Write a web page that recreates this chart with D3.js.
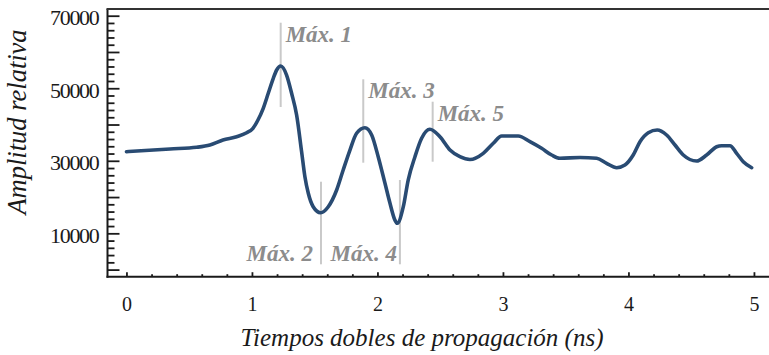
<!DOCTYPE html>
<html>
<head>
<meta charset="utf-8">
<script src="https://cdn.jsdelivr.net/npm/d3@7/dist/d3.min.js"></script>
<style>
  html, body { margin: 0; padding: 0; background: #ffffff; }
  svg { display: block; }
  text { font-family: "Liberation Serif", "Times New Roman", serif; }
</style>
</head>
<body>
<svg id="chart" width="769" height="355"></svg>
<script>
// Two-way travel time (ns) and relative amplitude of the trace
const times = [0.00, 0.347, 0.559, 0.665, 0.769, 0.878, 0.958, 1.008, 1.048, 1.090,
  1.130, 1.170, 1.197, 1.229, 1.276, 1.316, 1.356, 1.396, 1.422, 1.449,
  1.488, 1.547, 1.608, 1.675, 1.727, 1.781, 1.834, 1.900, 1.954, 2.006,
  2.060, 2.100, 2.139, 2.158, 2.206, 2.245, 2.299, 2.352, 2.418, 2.498,
  2.578, 2.657, 2.737, 2.843, 2.923, 2.990, 3.122, 3.215, 3.308, 3.388,
  3.454, 3.614, 3.747, 3.826, 3.906, 3.972, 4.038, 4.092, 4.158, 4.229,
  4.304, 4.371, 4.437, 4.543, 4.623, 4.703, 4.743, 4.809, 4.862, 4.915, 4.982];
const amplitudes = [32500, 33250, 33720, 34350, 35730, 36640, 37740, 38960, 41240, 44470,
  48610, 52740, 55030, 56130, 53650, 48610, 42620, 32420, 25610, 21040,
  17340, 15690, 17340, 21950, 27460, 32970, 37580, 39120, 37110, 31130,
  23790, 18280, 13670, 12760, 17340, 24700, 31130, 36200, 38680, 36640,
  32970, 31130, 30350, 32060, 34820, 36830, 36830, 35260, 33440, 31590,
  30680, 30910, 30680, 29310, 28090, 28840, 31590, 35260, 37740, 38490,
  37110, 34350, 31590, 29940, 31590, 33880, 34160, 34160, 32060, 29750, 28090];

// Annotated maxima: label, time, vertical extent of the guide line
const markerNames = ["Máx. 1", "Máx. 2", "Máx. 3", "Máx. 4", "Máx. 5"];
const markerTimes = [1.229, 1.550, 1.887, 2.179, 2.440];
const markerTops = [68070, 24230, 52470, 24700, 46290];
const markerBottoms = [44830, 1460, 29470, 1460, 29750];

// Tick values
const xTickValues = [0, 1, 2, 3, 4, 5];
const yMajorTicks = [0, 10000, 20000, 30000, 40000, 50000, 60000, 70000];
const yLabelled = [10000, 30000, 50000, 70000];

const svg = d3.select("#chart");
const plotLeft = 107.5, plotRight = 769, plotTop = 9, plotBottom = 276.7;

const x = d3.scaleLinear().domain([-0.151, 5.12]).range([plotLeft, plotRight]);
const y = d3.scaleLinear().domain([-1960, 71850]).range([plotBottom, plotTop]);

const ink = "#1a1a1a";

// Minor y ticks every 2000
const yMinor = d3.range(0, 71000, 2000).filter(v => v % 10000 !== 0);
svg.append("g")
  .attr("transform", `translate(${plotLeft},0)`)
  .call(d3.axisLeft(y).tickValues(yMinor).tickSizeInner(-7).tickSizeOuter(0).tickFormat(""))
  .call(g => g.select(".domain").remove())
  .call(g => g.selectAll("line").attr("stroke", ink).attr("stroke-width", 1.8));

// Major y ticks with labels on alternating values
svg.append("g")
  .attr("transform", `translate(${plotLeft},0)`)
  .call(d3.axisLeft(y).tickValues(yMajorTicks).tickSizeInner(-12).tickSizeOuter(0).tickPadding(9)
    .tickFormat(d => yLabelled.includes(d) ? String(d) : ""))
  .call(g => g.select(".domain").remove())
  .call(g => g.selectAll("line").attr("stroke", ink).attr("stroke-width", 1.8))
  .call(g => g.selectAll("text")
    .attr("fill", ink)
    .attr("dy", null)
    .attr("y", 9)
    .style("font-family", "'Liberation Serif', serif")
    .style("font-size", "22px")
    .style("letter-spacing", "-1.3px"));

// Minor x ticks every 0.2
const xMinor = d3.range(0, 5.01, 0.2).filter(v => Math.abs(v - Math.round(v)) > 1e-6);
svg.append("g")
  .attr("transform", `translate(0,${plotBottom})`)
  .call(d3.axisBottom(x).tickValues(xMinor).tickSizeInner(-2.5).tickSizeOuter(0).tickFormat(""))
  .call(g => g.select(".domain").remove())
  .call(g => g.selectAll("line").attr("stroke", ink).attr("stroke-width", 1.8));

// Major x ticks with labels
svg.append("g")
  .attr("transform", `translate(0,${plotBottom})`)
  .call(d3.axisBottom(x).tickValues(xTickValues).tickSizeInner(-4.5).tickSizeOuter(0).tickPadding(14)
    .tickFormat(d3.format("d")))
  .call(g => g.select(".domain").remove())
  .call(g => g.selectAll("line").attr("stroke", ink).attr("stroke-width", 1.8))
  .call(g => g.selectAll("text")
    .attr("fill", ink)
    .attr("dy", null)
    .attr("y", 34)
    .style("font-family", "'Liberation Serif', serif")
    .style("font-size", "20px"));

// Frame: left axis, bottom axis, top rule
svg.append("line").attr("x1", plotLeft).attr("x2", plotLeft).attr("y1", plotTop).attr("y2", plotBottom + 1)
  .attr("stroke", ink).attr("stroke-width", 2);
svg.append("line").attr("x1", plotLeft - 1).attr("x2", plotRight).attr("y1", plotBottom).attr("y2", plotBottom)
  .attr("stroke", ink).attr("stroke-width", 2);
svg.append("line").attr("x1", plotLeft - 1).attr("x2", plotRight).attr("y1", plotTop).attr("y2", plotTop)
  .attr("stroke", "#333333").attr("stroke-width", 2);

// Guide lines at the maxima
const markers = markerNames.map((name, i) => ({
  name, t: markerTimes[i], hi: markerTops[i], lo: markerBottoms[i]
}));
svg.append("g").selectAll("line").data(markers).join("line")
  .attr("x1", d => x(d.t)).attr("x2", d => x(d.t))
  .attr("y1", d => y(d.hi)).attr("y2", d => y(d.lo))
  .attr("stroke", "#c9c9c9").attr("stroke-width", 2);

// Trace
const pts = times.map((t, i) => [t, amplitudes[i]]);
svg.append("path")
  .datum(pts)
  .attr("fill", "none")
  .attr("stroke", "#294b73")
  .attr("stroke-width", 3.6)
  .attr("stroke-linejoin", "round")
  .attr("stroke-linecap", "round")
  .attr("d", d3.line().x(d => x(d[0])).y(d => y(d[1])).curve(d3.curveMonotoneX));

// Maxima labels: upper ones sit right of the line top, lower ones left of the line bottom
svg.append("g").selectAll("text").data(markers).join("text")
  .attr("x", (d, i) => i === 1 ? x(d.t) - 8 : i === 3 ? x(d.t) - 3 : x(d.t) + 5)
  .attr("y", (d, i) => (i === 1 || i === 3) ? y(d.lo) - 3.5 : y(d.hi) + 19)
  .attr("text-anchor", (d, i) => (i === 1 || i === 3) ? "end" : "start")
  .attr("fill", "#8c8c8c")
  .style("font-size", "23px")
  .style("font-weight", "bold")
  .style("font-style", "italic")
  .text(d => d.name);

// Axis titles
svg.append("text")
  .attr("x", 422).attr("y", 346)
  .attr("text-anchor", "middle")
  .attr("fill", ink)
  .style("font-size", "25px")
  .style("font-style", "italic")
  .text("Tiempos dobles de propagación (ns)");

svg.append("text")
  .attr("transform", "translate(26,122) rotate(-90)")
  .attr("text-anchor", "middle")
  .attr("fill", ink)
  .style("font-size", "26.5px")
  .style("font-style", "italic")
  .text("Amplitud relativa");
</script>
</body>
</html>
